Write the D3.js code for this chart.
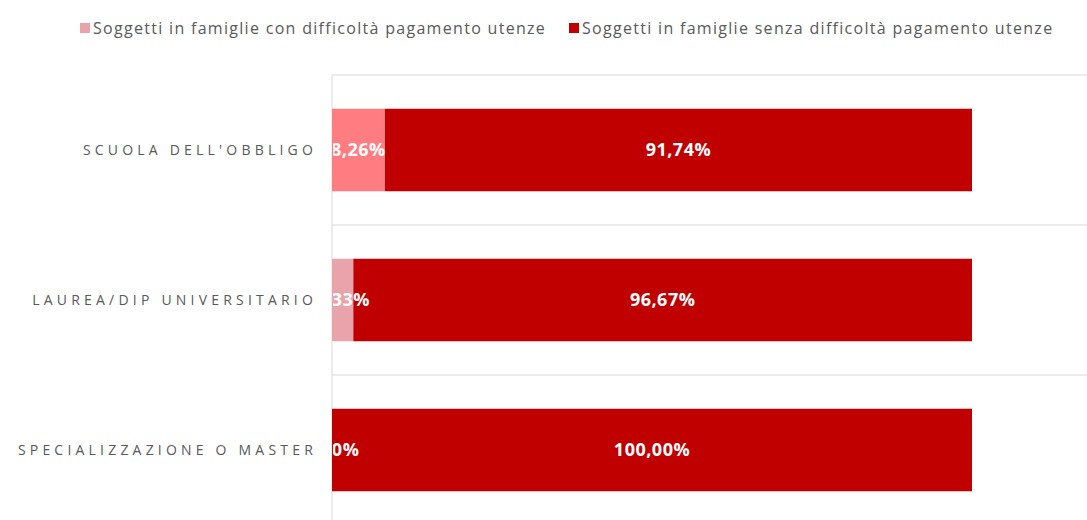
<!DOCTYPE html>
<html>
<head>
<meta charset="utf-8">
<script src="https://cdn.jsdelivr.net/npm/d3@7"></script>
<style>
  body { margin: 0; background: #fff; }
  svg { display: block; font-family: "Open Sans", sans-serif; }
  .cat-label { fill: #595959; font-size: 14px; letter-spacing: 4.2px; }
  .legend-label { fill: #595959; font-size: 16px; letter-spacing: 1.3px; }
  .value-label { fill: #fff; font-size: 18px; font-weight: 700; letter-spacing: 0.5px; }
</style>
</head>
<body>
<div id="chart"></div>
<script>
const categories = ["SCUOLA DELL'OBBLIGO", "LAUREA/DIP UNIVERSITARIO", "SPECIALIZZAZIONE O MASTER"];
const seriesNames = [
  "Soggetti in famiglie con difficoltà pagamento utenze",
  "Soggetti in famiglie senza difficoltà pagamento utenze"
];
const withDifficulty = [8.26, 3.33, 0.00];
const withoutDifficulty = [91.74, 96.67, 100.00];
const lightColors = ["#ff7c80", "#e8a4aa", "#e8a4aa"];
const darkColor = "#c00000";
const legendColors = ["#e8a4aa", darkColor];

const width = 1087;
const height = 520;
const margin = { top: 75, left: 332, right: 115 };

const svg = d3.select("#chart").append("svg")
  .attr("width", width)
  .attr("height", height);

const x = d3.scaleLinear()
  .domain([0, 100])
  .range([margin.left, width - margin.right]);

const y = d3.scaleBand()
  .domain(categories)
  .range([margin.top, margin.top + 450])
  .paddingInner(0.45)
  .paddingOuter(0.225);

// separators between categories
const step = y.step();
svg.append("g")
  .selectAll("line")
  .data(categories)
  .join("line")
  .attr("x1", margin.left)
  .attr("x2", width)
  .attr("y1", function (d) { return y(d) - y.paddingOuter() * step; })
  .attr("y2", function (d) { return y(d) - y.paddingOuter() * step; })
  .attr("stroke", "#d9d9d9")
  .attr("stroke-width", 1);

svg.append("line")
  .attr("x1", margin.left)
  .attr("x2", margin.left)
  .attr("y1", margin.top)
  .attr("y2", height)
  .attr("stroke", "#d9d9d9")
  .attr("stroke-width", 1);

const rows = categories.map(function (c, i) {
  return { cat: c, a: withDifficulty[i], b: withoutDifficulty[i], light: lightColors[i] };
});

const bars = svg.append("g");

bars.selectAll("rect.light")
  .data(rows)
  .join("rect")
  .attr("class", "light")
  .attr("x", x(0))
  .attr("y", function (d) { return y(d.cat); })
  .attr("width", function (d) { return x(d.a) - x(0); })
  .attr("height", y.bandwidth())
  .attr("fill", function (d) { return d.light; });

bars.selectAll("rect.dark")
  .data(rows)
  .join("rect")
  .attr("class", "dark")
  .attr("x", function (d) { return x(d.a); })
  .attr("y", function (d) { return y(d.cat); })
  .attr("width", function (d) { return x(d.a + d.b) - x(d.a); })
  .attr("height", y.bandwidth())
  .attr("fill", darkColor);

svg.append("defs").append("clipPath")
  .attr("id", "plotClip")
  .append("rect")
  .attr("x", margin.left + 1)
  .attr("y", 0)
  .attr("width", width - margin.left)
  .attr("height", height);

const fmt = function (v) { return v.toFixed(2).replace(".", ",") + "%"; };

const labels = svg.append("g").attr("clip-path", "url(#plotClip)");

labels.selectAll("text.a")
  .data(rows)
  .join("text")
  .attr("class", "value-label")
  .attr("x", function (d) { return (x(0) + x(d.a)) / 2; })
  .attr("y", function (d) { return y(d.cat) + y.bandwidth() / 2; })
  .attr("dy", "0.35em")
  .attr("text-anchor", "middle")
  .text(function (d) { return fmt(d.a); });

labels.selectAll("text.b")
  .data(rows)
  .join("text")
  .attr("class", "value-label")
  .attr("x", function (d) { return (x(d.a) + x(d.a + d.b)) / 2; })
  .attr("y", function (d) { return y(d.cat) + y.bandwidth() / 2; })
  .attr("dy", "0.35em")
  .attr("text-anchor", "middle")
  .text(function (d) { return fmt(d.b); });

svg.append("g")
  .selectAll("text")
  .data(categories)
  .join("text")
  .attr("class", "cat-label")
  .attr("x", 317)
  .attr("y", function (d) { return y(d) + y.bandwidth() / 2; })
  .attr("dy", "0.35em")
  .attr("text-anchor", "end")
  .text(function (d) { return d; });

// legend
const legendX = [80, 569];
const legend = svg.append("g");
seriesNames.forEach(function (name, i) {
  legend.append("rect")
    .attr("x", legendX[i])
    .attr("y", 23)
    .attr("width", 10)
    .attr("height", 10)
    .attr("fill", legendColors[i]);
  legend.append("text")
    .attr("class", "legend-label")
    .attr("x", legendX[i] + 13)
    .attr("y", 28)
    .attr("dy", "0.35em")
    .text(name);
});
</script>
</body>
</html>
